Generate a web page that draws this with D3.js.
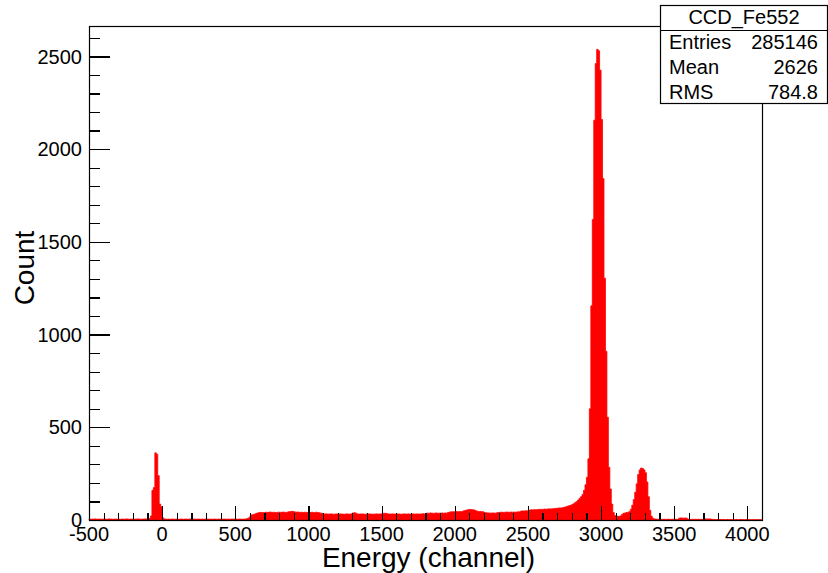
<!DOCTYPE html>
<html lang="en">
<head>
    <meta charset="UTF-8">
    <title>CCD_Fe552</title>
    <style>
        body {
            margin: 0;
            background: #fff;
        }

        svg text {
            font-family: "Liberation Sans", Arial, sans-serif;
            fill: #000;
        }

        .tick-label {
            font-size: 20px;
        }

        .axis-title {
            font-size: 28px;
        }

        .stats text {
            font-size: 20px;
        }

        .tick line {
            shape-rendering: crispEdges;
        }
    </style>
</head>
<body>
<svg width="828" height="573"></svg>
<script src="https://d3js.org/d3.v7.min.js"></script>
<script>
    // histogram: 460 bins of 10 channels, from -500 to 4100
    let binStart = -500,
        binWidth = 10;

    // counts, one row per 100 channels
    let counts = [
        5, 4, 5, 5, 6, 4, 5, 5, 4, 5,           // -500
        5, 5, 4, 6, 5, 5, 4, 5, 5, 4,           // -400
        5, 4, 5, 5, 4, 6, 5, 4, 5, 5,           // -300
        4, 5, 5, 6, 5, 4, 5, 5, 6, 5,           // -200
        5, 8, 22, 160, 175, 362, 355, 239, 86, 72, // -100
        12, 6, 5, 4, 5, 4, 5, 5, 4, 5,          // 0
        5, 4, 5, 5, 4, 5, 5, 4, 5, 5,           // 100
        4, 5, 5, 4, 5, 5, 4, 5, 4, 5,           // 200
        5, 5, 4, 5, 4, 5, 5, 4, 5, 5,           // 300
        4, 5, 5, 5, 4, 5, 4, 5, 5, 5,           // 400
        5, 4, 5, 5, 4, 5, 5, 6, 8, 12,          // 500
        22, 28, 30, 32, 36, 38, 40, 41, 40, 40, // 600
        41, 42, 40, 43, 42, 41, 42, 40, 41, 42, // 700
        42, 41, 43, 42, 41, 42, 44, 45, 47, 46, // 800
        44, 42, 43, 42, 41, 42, 40, 42, 41, 40, // 900
        41, 40, 42, 40, 41, 42, 40, 39, 37, 36, // 1000
        33, 32, 33, 32, 32, 33, 32, 31, 32, 33, // 1100
        32, 33, 32, 32, 31, 32, 33, 32, 32, 33, // 1200
        38, 39, 37, 33, 32, 32, 33, 32, 31, 32, // 1300
        32, 33, 32, 32, 31, 32, 33, 32, 32, 33, // 1400
        34, 36, 36, 35, 33, 32, 32, 33, 32, 32, // 1500
        32, 33, 32, 31, 32, 33, 32, 32, 33, 32, // 1600
        32, 33, 32, 32, 33, 32, 32, 33, 34, 33, // 1700
        36, 37, 36, 38, 37, 36, 37, 38, 36, 37, // 1800
        37, 38, 36, 38, 37, 40, 42, 44, 44, 45, // 1900
        45, 46, 44, 46, 45, 47, 50, 52, 54, 56, // 2000
        57, 56, 55, 54, 50, 47, 46, 46, 45, 44, // 2100
        40, 39, 38, 38, 37, 38, 38, 37, 38, 40, // 2200
        41, 42, 42, 41, 42, 43, 42, 42, 43, 42, // 2300
        43, 42, 43, 44, 44, 48, 49, 48, 50, 49, // 2400
        52, 54, 55, 54, 56, 55, 56, 57, 58, 57, // 2500
        58, 59, 58, 59, 60, 59, 60, 61, 62, 63, // 2600
        64, 65, 65, 66, 67, 70, 72, 75, 78, 80, // 2700
        84, 88, 95, 100, 108, 117, 126, 138, 160, 190,          // 2800
        230, 330, 600, 1155, 1621, 2156, 2462, 2538, 2530, 2426, // 2900
        2160, 1841, 1304, 910, 554, 284, 167, 86, 41, 24,       // 3000
        22, 20, 20, 22, 30, 36, 38, 40, 42, 45,                 // 3100
        58, 80, 110, 150, 195, 245, 270, 280, 278, 270,         // 3200
        255, 205, 125, 52, 20, 9, 6, 5, 4, 4,                   // 3300
        4, 3, 4, 4, 3, 4, 4, 3, 4, 4,           // 3400
        4, 4, 3, 10, 11, 11, 10, 11, 10, 5,     // 3500
        4, 3, 4, 3, 4, 3, 4, 3, 4, 3,           // 3600
        4, 6, 6, 6, 6, 4, 3, 3, 2, 3,           // 3700
        2, 3, 2, 3, 2, 2, 3, 2, 3, 2,           // 3800
        2, 2, 3, 2, 2, 3, 2, 2, 2, 3,           // 3900
        2, 2, 1, 2, 2, 1, 2, 1, 2, 1            // 4000
    ];

    let xDomain = [-500, 4100],
        yDomain = [0, 2664];

    let xMajor = [-500, 0, 500, 1000, 1500, 2000, 2500, 3000, 3500, 4000],
        yMajor = [0, 500, 1000, 1500, 2000, 2500];

    let histTitle = "CCD_Fe552",
        statLabels = ["Entries", "Mean", "RMS"],
        statValues = ["285146", "2626", "784.8"];

    let xTitle = "Energy (channel)",
        yTitle = "Count";

    let svg = d3.select("svg"),
        frame = {left: 89, top: 26, right: 762, bottom: 520};

    let x = d3.scaleLinear().domain(xDomain).range([frame.left, frame.right]),
        y = d3.scaleLinear().domain(yDomain).range([frame.bottom, frame.top]);

    // step outline of the histogram
    let bins = counts.map(function (c, i) {
        return {x0: binStart + i * binWidth, n: c};
    });
    bins.push({x0: binStart + counts.length * binWidth, n: 0});

    let area = d3.area()
        .curve(d3.curveStepAfter)
        .x(function (d) { return x(d.x0); })
        .y0(y(0))
        .y1(function (d) { return y(d.n); });

    svg.append("path")
        .datum(bins)
        .attr("d", area)
        .attr("fill", "#ff0000")
        .attr("stroke", "#ff0000")
        .attr("stroke-width", 0.8);

    // frame
    svg.append("rect")
        .attr("x", frame.left + 0.5)
        .attr("y", frame.top + 0.5)
        .attr("width", frame.right - frame.left)
        .attr("height", frame.bottom - frame.top)
        .attr("fill", "none")
        .attr("stroke", "#000")
        .attr("stroke-width", 1.2);

    // y axis: ticks point into the frame
    let yAxis = d3.axisRight(y)
        .tickValues(d3.range(0, 2700, 100))
        .tickSize(0)
        .tickFormat("");

    let yg = svg.append("g")
        .attr("transform", "translate(" + (frame.left + 0.5) + ",0)")
        .call(yAxis);
    yg.select(".domain").remove();
    yg.selectAll(".tick line")
        .attr("x2", function (d) { return d % 500 === 0 ? 20 : 10; })
        .attr("stroke", "#000")
        .attr("stroke-width", 1.2);

    svg.append("g").selectAll("text")
        .data(yMajor)
        .enter().append("text")
        .attr("class", "tick-label")
        .attr("x", frame.left - 7)
        .attr("y", function (d) { return y(d); })
        .attr("dy", "0.36em")
        .attr("text-anchor", "end")
        .text(function (d) { return d; });

    // x axis: ticks point up
    let xAxis = d3.axisTop(x)
        .tickValues(d3.range(-500, 4100, 100))
        .tickSize(0)
        .tickFormat("");

    let xg = svg.append("g")
        .attr("transform", "translate(0," + (frame.bottom + 0.5) + ")")
        .call(xAxis);
    xg.select(".domain").remove();
    xg.selectAll(".tick line")
        .attr("y2", function (d) { return d % 500 === 0 ? -15 : -7.5; })
        .attr("stroke", "#000")
        .attr("stroke-width", 1.2);

    svg.append("g").selectAll("text")
        .data(xMajor)
        .enter().append("text")
        .attr("class", "tick-label")
        .attr("x", function (d) { return x(d); })
        .attr("y", frame.bottom + 21)
        .attr("text-anchor", "middle")
        .text(function (d) { return d; });

    // axis titles
    svg.append("text")
        .attr("class", "axis-title")
        .attr("x", (frame.left + frame.right) / 2 + 3)
        .attr("y", 567)
        .attr("text-anchor", "middle")
        .text(xTitle);

    svg.append("text")
        .attr("class", "axis-title")
        .attr("transform", "translate(34," + ((frame.top + frame.bottom) / 2 - 5) + ") rotate(-90)")
        .attr("text-anchor", "middle")
        .text(yTitle);

    // stats box
    let box = {left: 660.5, top: 5.5, right: 827.5, sep: 30.5, bottom: 103.5};
    let stats = svg.append("g").attr("class", "stats");

    stats.append("rect")
        .attr("x", box.left)
        .attr("y", box.top)
        .attr("width", box.right - box.left)
        .attr("height", box.bottom - box.top)
        .attr("fill", "#fff")
        .attr("stroke", "#000")
        .attr("stroke-width", 1.2);

    stats.append("line")
        .attr("x1", box.left).attr("x2", box.right)
        .attr("y1", box.sep).attr("y2", box.sep)
        .attr("stroke", "#000");

    stats.append("text")
        .attr("x", (box.left + box.right) / 2)
        .attr("y", 24)
        .attr("text-anchor", "middle")
        .text(histTitle);

    stats.selectAll(".stat-label")
        .data(statLabels)
        .enter().append("text")
        .attr("class", "stat-label")
        .attr("x", 669)
        .attr("y", function (d, i) { return 49 + i * 24.8; })
        .text(function (d) { return d; });

    stats.selectAll(".stat-value")
        .data(statValues)
        .enter().append("text")
        .attr("class", "stat-value")
        .attr("x", 818)
        .attr("y", function (d, i) { return 49 + i * 24.8; })
        .attr("text-anchor", "end")
        .text(function (d) { return d; });
</script>
</body>
</html>
